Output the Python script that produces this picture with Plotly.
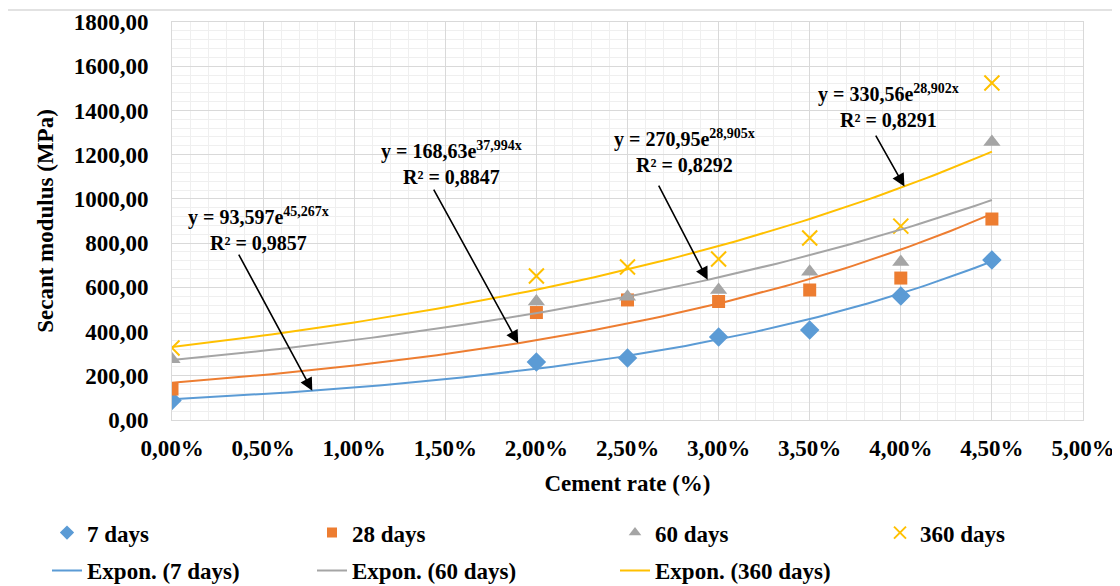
import numpy as np
import plotly.graph_objects as go

# ---- data ----
cement_rate = [0.0, 0.02, 0.025, 0.03, 0.035, 0.04, 0.045]
days7 = [88, 262, 280, 375, 407, 561, 724]
days28 = [140, 486, 543, 536, 588, 642, 909]
days60 = [275, 536, 557, 588, 670, 715, 1257]
days360 = [326, 651, 692, 728, 823, 877, 1524]

# Exponential trendline coefficients shown on the chart (y = a*e^(b*x))
trend_a = [93.597, 168.63, 270.95, 330.56]
trend_b = [45.267, 37.994, 28.905, 28.902]
r2 = ["0,9857", "0,8847", "0,8292", "0,8291"]
eq_a_txt = ["93,597", "168,63", "270,95", "330,56"]
eq_b_txt = ["45,267", "37,994", "28,905", "28,902"]

x_ticks = [0.0, 0.005, 0.01, 0.015, 0.02, 0.025, 0.03, 0.035, 0.04, 0.045, 0.05]
y_ticks = [0, 200, 400, 600, 800, 1000, 1200, 1400, 1600, 1800]

FONT = "Liberation Serif"
BLUE, ORANGE, GRAY, YELLOW = "#5B9BD5", "#ED7D31", "#A5A5A5", "#FFC000"
BOLD = dict(family=FONT, size=23, color="#000000", weight="bold")

fig = go.Figure()

series = [
    ("7 days", days7, dict(symbol="diamond", size=15, color=BLUE), dict(symbol="diamond", size=11, color=BLUE), "legend"),
    ("28 days", days28, dict(symbol="square", size=13, color=ORANGE), dict(symbol="square", size=10, color=ORANGE), "legend2"),
    ("60 days", days60, dict(symbol="triangle-up", size=15, color=GRAY), dict(symbol="triangle-up", size=11, color=GRAY), "legend3"),
    ("360 days", days360, dict(symbol="x-thin-open", size=15, color=YELLOW, line=dict(color=YELLOW, width=2)),
     dict(symbol="x-thin-open", size=12, color=YELLOW, line=dict(color=YELLOW, width=2)), "legend4"),
]
for nm, vals, mk, lmk, lg in series:
    fig.add_trace(go.Scatter(x=cement_rate, y=vals, mode="markers", name=nm, marker=mk,
                             showlegend=False))
    # legend-only entry with smaller marker (as in the reference legend)
    fig.add_trace(go.Scatter(x=[None], y=[None], mode="markers", name=nm, marker=lmk,
                             legend=lg, legendgroup=nm, hoverinfo="skip"))

# trendlines
xt = np.linspace(0, 0.045, 100)
trend_specs = [
    ("Expon. (7 days)", BLUE, "legend", True),
    ("Expon. (28 days)", ORANGE, "legend2", False),
    ("Expon. (60 days)", GRAY, "legend2", True),
    ("Expon. (360 days)", YELLOW, "legend3", True),
]
for (nm, col, lg, show), a, b in zip(trend_specs, trend_a, trend_b):
    fig.add_trace(go.Scatter(x=xt, y=a * np.exp(b * xt), mode="lines", name=nm,
                             line=dict(color=col, width=2), legend=lg, legendgroup=nm,
                             showlegend=show, hoverinfo="skip"))

# equation labels and arrows
label_pos = [(0.00475, 865), (0.01535, 1163), (0.02815, 1218), (0.03935, 1420)]
arrow_tail = [(0.00362, 755), (0.01432, 1049), (0.02667, 1067), (0.03858, 1293)]
arrow_head = [(0.0077, 132), (0.0190, 347), (0.0294, 634), (0.0402, 1056)]
for i in range(4):
    fig.add_annotation(x=label_pos[i][0], y=label_pos[i][1], xref="x", yref="y",
                       text=f"y = {eq_a_txt[i]}e<sup>{eq_b_txt[i]}x</sup><br>R² = {r2[i]}",
                       showarrow=False, font=dict(family=FONT, size=20, color="#000000", weight="bold"),
                       align="center")
    fig.add_annotation(x=arrow_head[i][0], y=arrow_head[i][1], xref="x", yref="y",
                       ax=arrow_tail[i][0], ay=arrow_tail[i][1], axref="x", ayref="y",
                       text="", showarrow=True, arrowhead=2, arrowsize=1.6, arrowwidth=1.6,
                       arrowcolor="#000000")

# outer chart border
fig.add_shape(type="rect", xref="paper", yref="paper", x0=-0.1811, y0=-0.452, x1=1.046, y1=1.0302,
              line=dict(color="#D9D9D9", width=1.5), fillcolor="rgba(0,0,0,0)", layer="below")

leg_common = dict(orientation="v", yanchor="top", xanchor="left", traceorder="grouped",
                  tracegroupgap=5, font=BOLD, bgcolor="rgba(0,0,0,0)", itemclick=False)
leg_y = -0.229
fig.update_layout(
    width=1112, height=578,
    margin=dict(l=164, r=37, t=14, b=166, autoexpand=False),
    paper_bgcolor="white", plot_bgcolor="white",
    separators=",.",
    font=dict(family=FONT, color="#000000"),
    legend=dict(x=(47 - 172) / 911, y=leg_y, **leg_common),
    legend2=dict(x=(312 - 172) / 911, y=leg_y, **leg_common),
    legend3=dict(x=(615 - 172) / 911, y=leg_y, **leg_common),
    legend4=dict(x=(880 - 172) / 911, y=leg_y, **leg_common),
    xaxis=dict(range=[0, 0.05], tickvals=x_ticks, tickformat=".2%",
               tickfont=BOLD, automargin=False,
               title=dict(text="Cement rate (%)", font=BOLD, standoff=15),
               showgrid=True, gridcolor="#D9D9D9", gridwidth=1,
               minor=dict(dtick=0.001, showgrid=True, gridcolor="#EFEFEF", gridwidth=1),
               showline=True, linecolor="#D9D9D9", mirror=True, zeroline=False,
               ticks="", ticklabelstandoff=7),
    yaxis=dict(range=[0, 1800], tickvals=y_ticks, tickformat=".2f",
               tickfont=BOLD, automargin=False,
               title=dict(text="Secant modulus (MPa)", font=BOLD, standoff=13),
               showgrid=True, gridcolor="#D9D9D9", gridwidth=1,
               minor=dict(dtick=40, showgrid=True, gridcolor="#EFEFEF", gridwidth=1),
               showline=True, linecolor="#D9D9D9", mirror=True, zeroline=False,
               ticks="", ticklabelstandoff=18),
)

fig.write_html("out.html")
